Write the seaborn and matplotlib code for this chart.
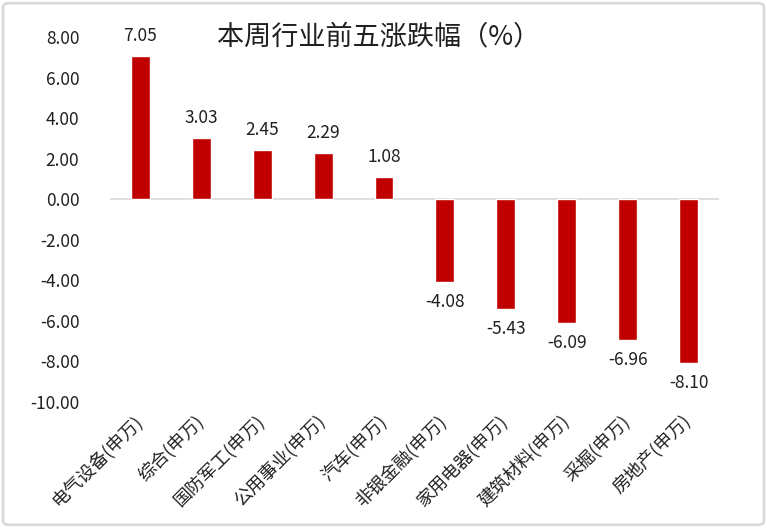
import numpy as np
import pandas as pd
import seaborn as sns
import matplotlib
import matplotlib.pyplot as plt
from matplotlib.patches import FancyBboxPatch

plt.switch_backend('agg')

industries = ['电气设备(申万)', '综合(申万)', '国防军工(申万)', '公用事业(申万)', '汽车(申万)',
              '非银金融(申万)', '家用电器(申万)', '建筑材料(申万)', '采掘(申万)', '房地产(申万)']
changes = [7.05, 3.03, 2.45, 2.29, 1.08, -4.08, -5.43, -6.09, -6.96, -8.10]
yticks = [8, 6, 4, 2, 0, -2, -4, -6, -8, -10]

sns.set_theme(style='white')
plt.rcParams['font.family'] = ['Noto Sans CJK SC', 'DejaVu Sans']
plt.rcParams['axes.unicode_minus'] = False

df = pd.DataFrame({'industry': industries, 'change': changes})

fig = plt.figure(figsize=(7.67, 5.28), dpi=100)
ax = fig.add_axes([0.1434, 0.2386, 0.794, 0.6914])

sns.barplot(data=df, x='industry', y='change', order=industries, color='#C00000',
            saturation=1, width=0.31, ax=ax)

ax.set_ylim(-10, 8)
ax.set_xlim(-0.5, len(industries) - 0.5)
ax.set_yticks(yticks)
ax.set_yticklabels([f'{v:.2f}' for v in yticks], fontsize=12.5, color='#202020')
ax.tick_params(axis='y', length=0, pad=22)
ax.tick_params(axis='x', length=0, pad=12)
ax.set_xticks(range(len(industries)))
ax.set_xticklabels(industries, rotation=45, ha='right', va='center',
                   rotation_mode='anchor', fontsize=13, color='#202020')
ax.set_xlabel('')
ax.set_ylabel('')
for s in ax.spines.values():
    s.set_visible(False)
ax.axhline(0, color='#d9d9d9', linewidth=1.2, zorder=0)

for i, v in enumerate(changes):
    ax.annotate(f'{v:.2f}', (i, v), xytext=(0, 20 if v > 0 else -20),
                textcoords='offset pixels', ha='center', va='center',
                fontsize=12.5, color='#202020')

fig.text(0.494, 0.93, '本周行业前五涨跌幅（%）', ha='center', va='center',
         fontsize=19.5, color='#202020')

border = FancyBboxPatch((0.004, 0.006), 0.992, 0.988, boxstyle='round,pad=0,rounding_size=0.008',
                        transform=fig.transFigure, fill=False, edgecolor='#d9d9d9', linewidth=2)
fig.patches.append(border)

fig.savefig('out.png', dpi=100)
